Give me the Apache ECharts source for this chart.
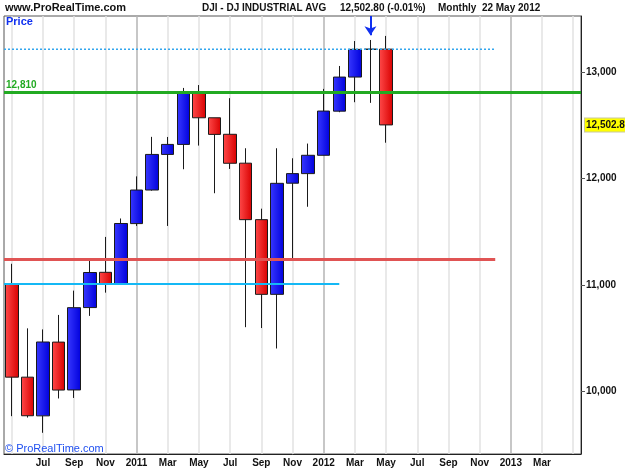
<!DOCTYPE html>
<html>
<head>
<meta charset="utf-8">
<script src="https://cdn.jsdelivr.net/npm/echarts@6/dist/echarts.min.js"></script>
<style>
  html, body { margin: 0; padding: 0; background: #fff; }
  #chart { width: 625px; height: 469px; }
</style>
</head>
<body>
<div id="chart"></div>
<script>
// monthly categories, May 2010 .. May 2013
const months = [
  '2010-05', '2010-06', '2010-07', '2010-08', '2010-09', '2010-10', '2010-11', '2010-12',
  '2011-01', '2011-02', '2011-03', '2011-04', '2011-05', '2011-06', '2011-07', '2011-08',
  '2011-09', '2011-10', '2011-11', '2011-12', '2012-01', '2012-02', '2012-03', '2012-04',
  '2012-05', '2012-06', '2012-07', '2012-08', '2012-09', '2012-10', '2012-11', '2012-12',
  '2013-01', '2013-02', '2013-03', '2013-04', '2013-05'
];
// one label every second month (first and last are left blank)
const xTickLabels = ['', 'Jul', 'Sep', 'Nov', '2011', 'Mar', 'May', 'Jul', 'Sep', 'Nov',
  '2012', 'Mar', 'May', 'Jul', 'Sep', 'Nov', '2013', 'Mar', ''];
const yTicks = [10000, 11000, 12000, 13000];

// OHLC, May 2010 .. May 2012
const opens  = [11008, 10136, 9773, 10465, 10016, 10789, 11120, 11007, 11577, 11892, 12226, 12320,
  12811, 12570, 12415, 12144, 11614, 10913, 11956, 12046, 12218, 12632, 12952, 13212, 13214];
const closes = [10136, 9774, 10466, 10015, 10788, 11118, 11006, 11578, 11892, 12226, 12320, 12811,
  12570, 12414, 12143, 11614, 10913, 11955, 12046, 12218, 12633, 12952, 13212, 13214, 12503];
const lows   = [9770, 9757, 9614, 9936, 9941, 10711, 10929, 11007, 11555, 11886, 11555, 12087,
  12309, 11862, 12090, 10605, 10597, 10405, 11250, 11735, 12217, 12622, 12716, 12710, 12336];
const highs  = [11200, 10594, 10584, 10720, 10948, 11245, 11452, 11625, 12020, 12391, 12390, 12850,
  12877, 12570, 12754, 12284, 11717, 12284, 12190, 12328, 12841, 13056, 13290, 13300, 13338];

const lastPrice = 12502.8;
const greenLevel = 12810;
const redLevel = 11240;
const cyanLevel = 11010;
const dottedLevel = 13213;
const arrowMonth = 23; // Apr 2012

const candles = opens.map((o, i) => [o, closes[i], lows[i], highs[i]]);

const fontFamily = 'Liberation Sans, Arial, sans-serif';
const head = { fontSize: 10, fontWeight: 'bold', color: '#111', fontFamily };

const redFill = new echarts.graphic.LinearGradient(0, 0, 1, 0, [
  { offset: 0, color: '#ff4a4a' }, { offset: 1, color: '#d80000' }
]);
const blueFill = new echarts.graphic.LinearGradient(0, 0, 1, 0, [
  { offset: 0, color: '#3838ff' }, { offset: 1, color: '#0000dc' }
]);

function levelLine(data, color, width, type) {
  return {
    type: 'line',
    xAxisIndex: 1,
    data: data,
    symbol: 'none',
    silent: true,
    lineStyle: { color: color, width: width, type: type || 'solid' }
  };
}

const chart = echarts.init(document.getElementById('chart'));

chart.setOption({
  animation: false,
  backgroundColor: '#fff',
  title: [
    { text: 'www.ProRealTime.com', left: 5, top: 2, padding: 0, textStyle: Object.assign({}, head, { fontSize: 11 }) },
    { text: 'DJI - DJ INDUSTRIAL AVG', left: 202, top: 3, padding: 0, textStyle: head },
    { text: '12,502.80 (-0.01%)', left: 340, top: 3, padding: 0, textStyle: head },
    { text: 'Monthly  22 May 2012', left: 438, top: 3, padding: 0, textStyle: head },
    { text: 'Price', left: 6, top: 16, padding: 0,
      textStyle: { fontSize: 11, fontWeight: 'bold', color: '#1030f0', fontFamily } },
    { text: '© ProRealTime.com', left: 5, top: 443, padding: 0,
      textStyle: { fontSize: 11, fontWeight: 'normal', color: '#2050f0', fontFamily } }
  ],
  grid: {
    left: 4, right: 44, top: 16, bottom: 15,
    show: true, borderColor: '#555', borderWidth: 1, backgroundColor: '#fff'
  },
  xAxis: [
    {
      type: 'category',
      data: months,
      boundaryGap: true,
      axisLine: { onZero: false, lineStyle: { color: '#222' } },
      axisTick: { show: false },
      axisLabel: {
        interval: 1,
        margin: 4,
        fontSize: 10, fontWeight: 'bold', color: '#111', fontFamily,
        formatter: (v, idx) => xTickLabels[Math.round(idx / 2)] || ''
      },
      splitLine: {
        show: true,
        interval: 1,
        alignWithLabel: true,
        lineStyle: { color: ['#e2e2e2', '#e2e2e2', '#e2e2e2', '#e2e2e2', '#b4b4b4', '#e2e2e2'], width: 1.5 }
      }
    },
    {
      type: 'value',
      min: -0.5,
      max: months.length - 0.5,
      show: false
    }
  ],
  yAxis: {
    type: 'value',
    position: 'right',
    min: 9415,
    max: 13525,
    axisLine: { show: true, onZero: false, lineStyle: { color: '#222' } },
    axisTick: { show: true, length: 4, customValues: yTicks, lineStyle: { color: '#555' } },
    axisLabel: {
      customValues: yTicks,
      margin: 5,
      fontSize: 10, fontWeight: 'bold', color: '#111', fontFamily,
      formatter: v => v.toLocaleString('en-US')
    },
    splitLine: { show: false }
  },
  series: [
    {
      type: 'candlestick',
      data: candles,
      barWidth: 13,
      itemStyle: {
        color: blueFill,
        color0: redFill,
        borderColor: '#1a1a1a',
        borderColor0: '#1a1a1a',
        borderWidth: 1
      },
      markLine: {
        silent: true,
        symbol: 'none',
        data: [
          {
            yAxis: lastPrice,
            lineStyle: { color: 'rgba(0,0,0,0)', width: 0 },
            label: {
              position: 'end',
              distance: 4,
              formatter: '12,502.8',
              backgroundColor: '#ffff00',
              borderColor: '#c8c8a0',
              borderWidth: 1,
              padding: [2, 1, 1, 1],
              fontSize: 10, fontWeight: 'bold', color: '#111', fontFamily
            }
          }
        ]
      }
    },
    levelLine([[-0.5, dottedLevel], [31, dottedLevel]], '#33a6ee', 1.5, [2, 2]),
    levelLine([[-0.5, cyanLevel], [21, cyanLevel]], '#14b8f5', 2),
    levelLine([[-0.5, redLevel], [31, redLevel]], '#e05454', 3),
    {
      type: 'line',
      xAxisIndex: 1,
      data: [],
      markLine: {
        silent: true,
        symbol: 'none',
        data: [
          {
            yAxis: greenLevel,
            lineStyle: { color: '#22aa22', width: 3, type: 'solid' },
            label: {
              position: 'insideStartTop',
              distance: 2,
              formatter: '12,810',
              fontSize: 10, fontWeight: 'bold', color: '#22aa22', fontFamily
            }
          }
        ]
      }
    },
    {
      type: 'line',
      xAxisIndex: 1,
      data: [],
      markLine: {
        silent: true,
        symbol: ['none', 'arrow'],
        symbolSize: [9, 9],
        lineStyle: { color: '#1030f0', width: 2, type: 'solid' },
        label: { show: false },
        data: [[{ coord: [arrowMonth, 13525] }, { coord: [arrowMonth, 13345] }]]
      }
    }
  ]
});
</script>
</body>
</html>
